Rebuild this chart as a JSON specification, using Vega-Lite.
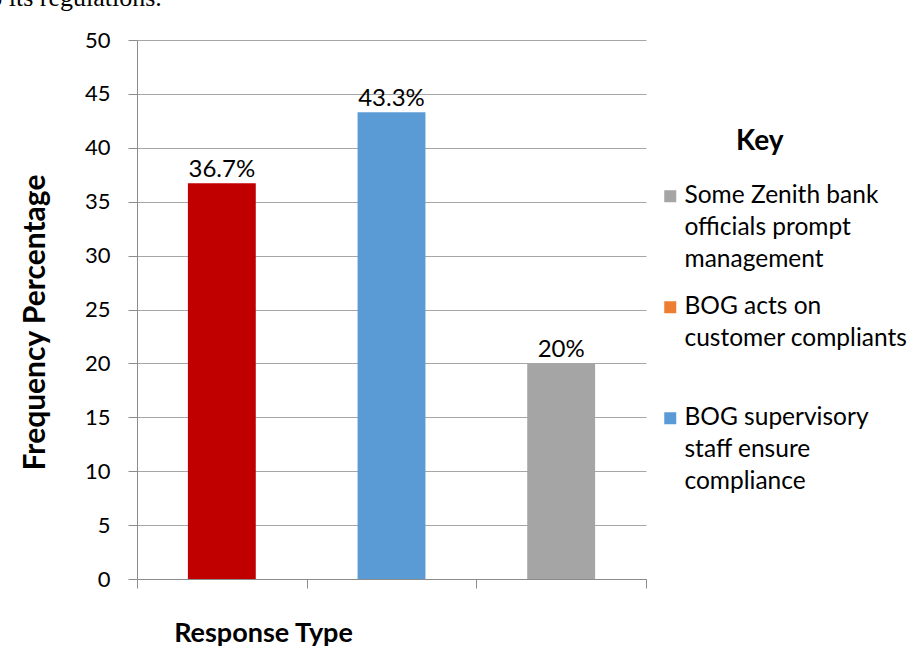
{
  "$schema": "https://vega.github.io/schema/vega-lite/v6.json",
  "autosize": {"type": "none"},
  "padding": {"left": 137, "top": 40, "right": 269, "bottom": 78},
  "width": 509,
  "height": 539,
  "background": "white",
  "title": {
    "text": "to its regulations.",
    "anchor": "start",
    "frame": "group",
    "font": "Liberation Serif",
    "fontSize": 26,
    "fontWeight": "normal",
    "color": "black",
    "baseline": "alphabetic",
    "dx": -155,
    "dy": 3,
    "offset": 0
  },
  "data": {
    "values": [
      {"response": "BOG acts on customer compliants", "pct": 36.7, "label": "36.7%"},
      {"response": "BOG supervisory staff ensure compliance", "pct": 43.3, "label": "43.3%"},
      {"response": "Some Zenith bank officials prompt management", "pct": 20, "label": "20%"}
    ]
  },
  "encoding": {
    "x": {
      "field": "response",
      "type": "nominal",
      "sort": null,
      "scale": {"paddingInner": 0, "paddingOuter": 0},
      "axis": {
        "labels": false,
        "tickBand": "extent",
        "tickSize": 9,
        "tickColor": "#8c8c8c",
        "domainColor": "#8c8c8c",
        "grid": false,
        "title": "Response Type",
        "titleFont": "Lato",
        "titleFontSize": 27,
        "titleFontWeight": "bold",
        "titleColor": "black",
        "titleX": 126,
        "titleY": 54,
        "titleBaseline": "middle",
        "titleAlign": "center"
      }
    },
    "y": {
      "field": "pct",
      "type": "quantitative",
      "scale": {"domain": [0, 50], "nice": false},
      "axis": {
        "values": [0, 5, 10, 15, 20, 25, 30, 35, 40, 45, 50],
        "tickSize": 9,
        "tickColor": "#8c8c8c",
        "domainColor": "#8c8c8c",
        "gridColor": "#a6a6a6",
        "labelFont": "Lato",
        "labelFontSize": 22,
        "labelColor": "black",
        "labelPadding": 18,
        "title": "Frequency Percentage",
        "titleFont": "Lato",
        "titleFontSize": 30,
        "titleFontWeight": "bold",
        "titleColor": "black",
        "titleX": -102,
        "titleY": 282,
        "titleBaseline": "middle",
        "titleAlign": "center",
        "titleAngle": -90
      }
    }
  },
  "layer": [
    {
      "mark": {"type": "bar", "width": {"band": 0.4}},
      "encoding": {
        "color": {
          "field": "response",
          "type": "nominal",
          "scale": {
            "domain": ["BOG acts on customer compliants", "BOG supervisory staff ensure compliance", "Some Zenith bank officials prompt management"],
            "range": ["#C00000", "#5B9BD5", "#A5A5A5"]
          },
          "legend": null
        }
      }
    },
    {
      "mark": {"type": "bar", "width": {"band": 0.4}, "opacity": 0},
      "encoding": {
        "color": {
          "field": "response",
          "type": "nominal",
          "scale": {
            "domain": ["Some Zenith bank officials prompt management", "BOG acts on customer compliants", "BOG supervisory staff ensure compliance"],
            "range": ["#A5A5A5", "#ED7D31", "#5B9BD5"]
          },
          "legend": {
            "title": "Key",
            "orient": "none",
            "legendX": 521,
            "legendY": 88,
            "padding": 0,
            "titleFont": "Lato",
            "titleFontSize": 28,
            "titleFontWeight": "bold",
            "titleColor": "black",
            "titleAnchor": "start",
            "titlePadding": 28,
            "symbolType": "square",
            "symbolSize": 144,
            "symbolOpacity": 1,
            "symbolStrokeWidth": 0,
            "labelFont": "Lato",
            "labelFontSize": 24.5,
            "labelColor": "black",
            "labelOffset": 2,
            "labelLimit": 400,
            "labelBaseline": "middle",
            "rowPadding": 22,
            "labelExpr": "datum.label == 'Some Zenith bank officials prompt management' ? ['Some Zenith bank', 'officials prompt', 'management'] : datum.label == 'BOG acts on customer compliants' ? ['BOG acts on', 'customer compliants', ''] : ['BOG supervisory', 'staff ensure', 'compliance']",
            "encode": {
              "labels": {"update": {"lineHeight": {"value": 32}}},
              "title": {"update": {"dx": {"value": 78}}}
            }
          }
        }
      }
    },
    {
      "mark": {"type": "text", "font": "Lato", "fontSize": 24, "color": "black", "baseline": "alphabetic", "dy": -6},
      "encoding": {"text": {"field": "label"}}
    }
  ],
  "resolve": {"scale": {"color": "independent"}},
  "config": {"view": {"stroke": null}}
}
